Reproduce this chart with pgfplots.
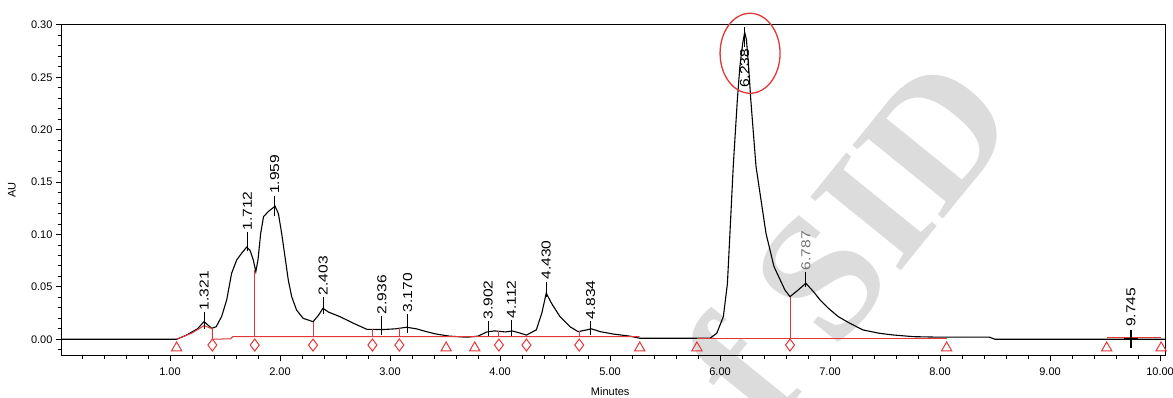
\documentclass[border=0pt]{standalone}
\usepackage{pgfplots}
\pgfplotsset{compat=1.18}
\usepackage{fontspec}
\setmainfont{Liberation Sans}
\newfontfamily\wmfont{Liberation Serif}
\definecolor{pkred}{RGB}{225,55,55}
\definecolor{wm}{RGB}{220,220,220}
\newcommand\pkfont{\fontsize{13}{13}\selectfont}
\newcommand\pk[5][black]{%
  \draw[black, line width=1pt] (axis cs:#2,#3) -- (axis cs:#2,#4);
  \node[rotate=90, anchor=west, xscale=1.2, inner sep=1.5pt, font=\pkfont, text=#1] at (axis cs:#2,#4) {#5};
}
\begin{document}
\begin{tikzpicture}
\node[text=wm, font=\wmfont\bfseries\fontsize{178}{178}\selectfont, rotate=51] at (758pt,82pt) {of SID};
\begin{axis}[
  at={(0,0)}, anchor=south west, scale only axis,
  width=1103pt, height=330pt,
  xmin=0.018, xmax=10.045, ymin=-0.015, ymax=0.30,
  clip=false,
  axis line style={black, line width=1pt},
  every tick/.style={black, line width=1pt},
  tick align=outside, xtick pos=bottom, ytick pos=left,
  major tick length=6pt, minor tick length=4pt,
  xtick={1,2,3,4,5,6,7,8,9,10},
  minor xtick={0.2,0.4,0.6,0.8,1.2,1.4,1.6,1.8,2.2,2.4,2.6,2.8,3.2,3.4,3.6,3.8,4.2,4.4,4.6,4.8,5.2,5.4,5.6,5.8,6.2,6.4,6.6,6.8,7.2,7.4,7.6,7.8,8.2,8.4,8.6,8.8,9.2,9.4,9.6,9.8},
  ytick={0,0.05,0.1,0.15,0.2,0.25,0.3},
  minor ytick={-0.01,0.01,0.02,0.03,0.04,0.06,0.07,0.08,0.09,0.11,0.12,0.13,0.14,0.16,0.17,0.18,0.19,0.21,0.22,0.23,0.24,0.26,0.27,0.28,0.29},
  scaled y ticks=false,
  xticklabel style={/pgf/number format/fixed, /pgf/number format/fixed zerofill, /pgf/number format/precision=2, /pgf/number format/assume math mode=true, font=\fontsize{11}{11}\selectfont, yshift=-3pt},
  yticklabel style={/pgf/number format/fixed, /pgf/number format/fixed zerofill, /pgf/number format/precision=2, /pgf/number format/assume math mode=true, font=\fontsize{11}{11}\selectfont},
  xlabel={Minutes},
  xlabel style={at={(axis description cs:0.497,-0.112)}, anchor=center, font=\fontsize{11}{11}\selectfont},
]
% chromatogram signal
\addplot[black, line width=1.1pt] coordinates {
(0.018,0) (1.06,0) (1.15,0.004) (1.25,0.010) (1.31,0.017) (1.35,0.013) (1.38,0.0105) (1.42,0.012) (1.47,0.022) (1.515,0.0375) (1.56,0.063) (1.606,0.0757) (1.65,0.082) (1.697,0.088) (1.727,0.085) (1.757,0.0757) (1.78,0.0645) (1.80,0.076) (1.824,0.101) (1.85,0.117) (1.894,0.122) (1.955,0.127) (1.985,0.120) (2.015,0.101) (2.045,0.079) (2.075,0.0566) (2.106,0.0407) (2.15,0.028) (2.21,0.020) (2.30,0.0168) (2.35,0.023) (2.39,0.0296) (2.44,0.026) (2.545,0.0216) (2.667,0.0153) (2.79,0.0095) (2.94,0.0093) (3.05,0.010) (3.15,0.0115) (3.24,0.010) (3.33,0.0073) (3.42,0.005) (3.54,0.003) (3.70,0.002) (3.80,0.003) (3.88,0.007) (3.95,0.008) (4.05,0.007) (4.11,0.008) (4.18,0.006) (4.24,0.004) (4.33,0.009) (4.38,0.025) (4.42,0.044) (4.47,0.034) (4.545,0.0216) (4.636,0.012) (4.71,0.0073) (4.79,0.009) (4.83,0.010) (4.91,0.0073) (5.03,0.005) (5.18,0.003) (5.27,0.001) (5.80,0.001) (5.909,0.001) (5.97,0.0057) (6.03,0.0216) (6.067,0.053) (6.09,0.101) (6.12,0.165) (6.157,0.228) (6.18,0.260) (6.206,0.2825) (6.224,0.293) (6.24,0.286) (6.26,0.260) (6.28,0.228) (6.327,0.165) (6.418,0.101) (6.49,0.0695) (6.59,0.047) (6.636,0.0407) (6.71,0.047) (6.78,0.0535) (6.85,0.0454) (6.91,0.0375) (6.985,0.0296) (7.075,0.0216) (7.18,0.0153) (7.30,0.0089) (7.45,0.0057) (7.575,0.0041) (7.76,0.0025) (8.0,0.002) (8.45,0.002) (8.50,0.0) (10.045,0)
};
% integration baselines
\addplot[pkred, line width=1pt] coordinates {(1.06,0) (1.20,0.006) (1.31,0.013) (1.385,0.010) (1.385,0.0) (1.55,0.0005) (1.57,0.0025) (5.27,0.0025)};
\addplot[pkred, line width=1pt] coordinates {(5.79,0.001) (8.06,0.001)};
\addplot[pkred, line width=1pt] coordinates {(9.515,0.002) (10.01,0.002)};
% drop lines
\addplot[pkred, line width=1pt] coordinates {(1.77,0.0025) (1.77,0.066)};
\addplot[pkred, line width=1pt] coordinates {(2.30,0.0025) (2.30,0.0168)};
\addplot[pkred, line width=1pt] coordinates {(2.84,0.0025) (2.84,0.0095)};
\addplot[pkred, line width=1pt] coordinates {(3.085,0.0025) (3.085,0.011)};
\addplot[pkred, line width=1pt] coordinates {(3.99,0.0025) (3.99,0.0075)};
\addplot[pkred, line width=1pt] coordinates {(4.72,0.0025) (4.72,0.0075)};
\addplot[pkred, line width=1pt] coordinates {(6.636,0.001) (6.636,0.0407)};
% markers
\addplot[only marks, mark=triangle, mark size=6pt, pkred, mark options={line width=1pt, fill=white}] coordinates {(1.06,-0.0083) (3.51,-0.0083) (3.77,-0.0083) (5.27,-0.0083) (5.79,-0.0083) (8.06,-0.0083) (9.515,-0.0083) (10.01,-0.0083)};
\addplot[only marks, mark=diamond, mark size=6pt, pkred, mark options={line width=1pt, fill=white}] coordinates {(1.385,-0.0055) (1.77,-0.0055) (2.30,-0.0055) (2.84,-0.0055) (3.085,-0.0055) (3.99,-0.0055) (4.24,-0.0055) (4.72,-0.0055) (6.636,-0.0055)};
% peak labels
\pk{1.311}{0.010}{0.026}{1.321}
\pk{1.702}{0.084}{0.102}{1.712}
\pk{1.952}{0.118}{0.137}{1.959}
\pk{2.393}{0.024}{0.040}{2.403}
\pk{2.926}{0.004}{0.022}{2.936}
\pk{3.160}{0.006}{0.024}{3.170}
\pk{3.892}{0.003}{0.017}{3.902}
\pk{4.102}{0.003}{0.018}{4.112}
\pk{4.420}{0.040}{0.055}{4.430}
\pk{4.824}{0.004}{0.017}{4.834}
\pk[black!55]{6.780}{0.050}{0.064}{6.787}
\draw[black, line width=1pt] (axis cs:6.224,0.279) -- (axis cs:6.224,0.298);
\node[rotate=90, anchor=west, xscale=1.2, inner sep=1.5pt, font=\pkfont] at (axis cs:6.224,0.238) {6.238};
\draw[black, line width=1.2pt] (axis cs:9.735,-0.008) -- (axis cs:9.735,0.009);
\draw[black, line width=1.2pt] (axis cs:9.67,0.001) -- (axis cs:9.80,0.001);
\node[rotate=90, anchor=west, xscale=1.2, inner sep=1.5pt, font=\pkfont] at (axis cs:9.735,0.010) {9.745};
% highlight
\draw[pkred, line width=1.3pt] (axis cs:6.273,0.273) ellipse [x radius=30pt, y radius=40pt];
\end{axis}
\node[rotate=90, font=\fontsize{11}{11}\selectfont] at (-50pt,165pt) {AU};
\pgfresetboundingbox
\path (-62pt,-42pt) rectangle (1111pt,355pt);
\end{tikzpicture}
\end{document}
